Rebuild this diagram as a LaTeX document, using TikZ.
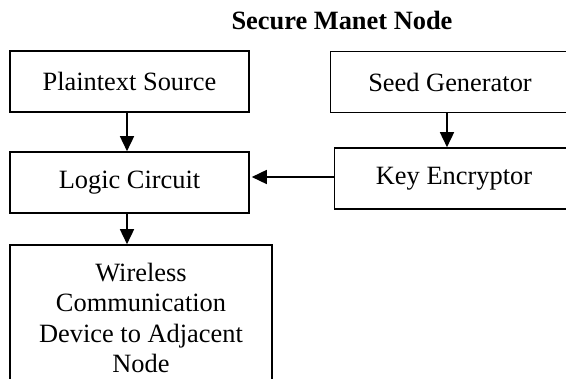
\documentclass[tikz,border=0pt]{standalone}
\usepackage{fontspec}
\setmainfont{Liberation Serif}
\usetikzlibrary{arrows.meta}
\begin{document}
\begin{tikzpicture}[x=1pt,y=-1pt,
  box/.style={draw, line width=1.6pt, minimum width=239pt, minimum height=61pt, inner sep=0pt,
    font=\fontsize{26.4}{30.5}\selectfont, align=center},
  conn/.style={line width=1.6pt, -{Triangle[length=15pt,width=14pt]}}]
\useasboundingbox (0,0) rectangle (566,379);
\clip (0,0) rectangle (566,379);
\node[font=\bfseries\fontsize{26.4}{31.5}\selectfont, anchor=base, inner sep=0pt] (title) at (342,30) {Secure Manet Node};
\node[box] (plain) at (129.5,81.5) {Plaintext Source};
\node[box] (seed) at (450,82) {Seed Generator};
\node[box] (logic) at (129.5,182.5) {Logic Circuit};
\node[box] (key) at (454,178.5) {Key Encryptor};
\node[box, minimum width=262pt, minimum height=146pt] (wire) at (141,318) {Wireless\\Communication\\Device to Adjacent\\Node};
\draw[conn] ([xshift=-2.5pt]plain.south) -- ([xshift=-2.5pt]logic.north);
\draw[conn] ([xshift=-3pt]seed.south) -- ([xshift=-3pt]seed.south |- key.north);
\draw[conn] ([yshift=1.5pt]key.west) -- ([yshift=1.5pt,xshift=2pt]key.west -| logic.east);
\draw[conn] ([xshift=-2.5pt]logic.south) -- ([xshift=-2.5pt]logic.south |- wire.north);
\end{tikzpicture}
\end{document}
